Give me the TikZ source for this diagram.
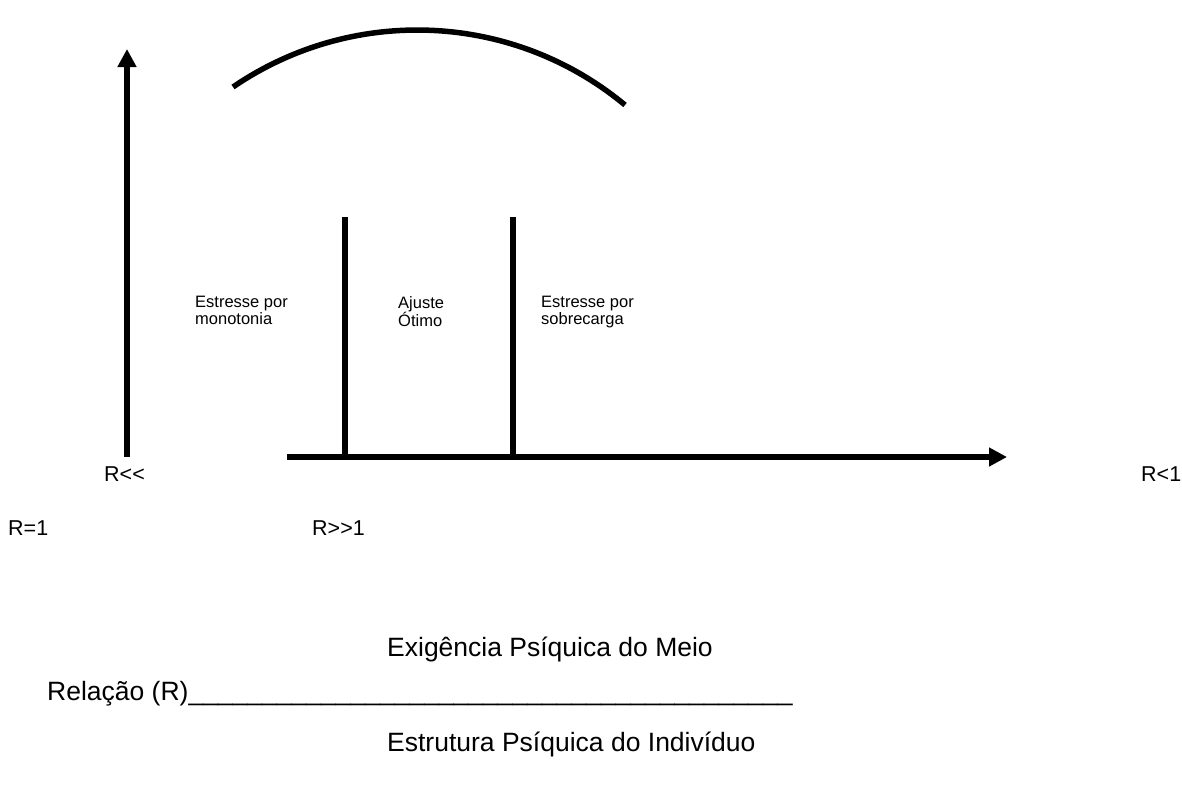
\documentclass[tikz,border=0pt]{standalone}
\usepackage{fontspec}
\setmainfont{Liberation Sans}
\usetikzlibrary{arrows.meta}

\begin{document}
\begin{tikzpicture}[%
  x=1pt, y=-1pt,
  eixo/.style={line width=5.5pt, -{Triangle[length=18pt,width=18pt]}},
  divisa/.style={line width=5.5pt},
  zona/.style={inner sep=0pt, align=left, font=\fontsize{16.5}{17}\selectfont},
  rotulo/.style={inner sep=0pt, font=\fontsize{21.5}{24.5}\selectfont},
  titulo/.style={inner sep=0pt, font=\fontsize{26.5}{30}\selectfont}]
  \useasboundingbox (0,0) rectangle (1182,784);
  % eixos
  \coordinate (origemY) at (127,457);
  \coordinate (topoY) at (127,49);
  \coordinate (origemX) at (287,457);
  \coordinate (fimX) at (1007,457);
  \draw[eixo] (origemY) -- (topoY);
  \draw[eixo] (origemX) -- (fimX);
  % divisas entre as zonas
  \coordinate (divA) at (345,217);
  \coordinate (divB) at (513,217);
  \draw[divisa] (divA) -- (divA |- origemX);
  \draw[divisa] (divB) -- (divB |- origemX);
  % curva
  \coordinate (curvaIni) at (233,87);
  \coordinate (curvaFim) at (625,105);
  \draw[divisa] (curvaIni) .. controls (353,5) and (513,12) .. (curvaFim);
  % zonas
  \node[zona, anchor=north west] (monotonia) at (195,296) {Estresse por\\monotonia};
  \node[zona, anchor=north west] (ajuste) at (398,296) {Ajuste\\Ótimo};
  \node[zona, anchor=north west] (sobrecarga) at (541,296) {Estresse por\\sobrecarga};
  % valores de R
  \node[rotulo, anchor=base west] (rmenor) at (104,481) {R<\kern0pt<};
  \node[rotulo, anchor=base west] (rmenos) at (1141,481) {R<1};
  \node[rotulo, anchor=base west] (rigual) at (8,535) {R=1};
  \node[rotulo, anchor=base west] (rmaior) at (312,535) {R>\kern0pt>1};
  % relacao
  \node[titulo, anchor=base west] (meio) at (387,656) {Exigência Psíquica do Meio};
  \node[titulo, anchor=base west] (relacao) at (47,700) {Relação (R)\_\_\_\_\_\_\_\_\_\_\_\_\_\_\_\_\_\_\_\_\_\_\_\_\_\_\_\_\_\_\_\_\_\_\_\_\_\_\_\_\_};
  \node[titulo, anchor=base west] (individuo) at (387,751) {Estrutura Psíquica do Indivíduo};
\end{tikzpicture}
\end{document}
